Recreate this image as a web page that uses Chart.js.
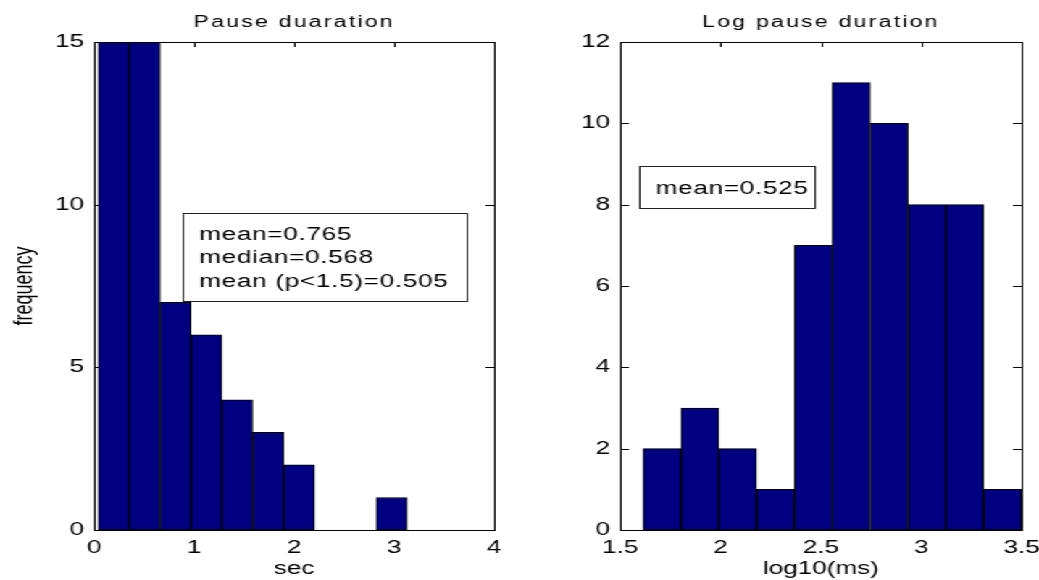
<!DOCTYPE html>
<html>
<head>
<meta charset="utf-8">
<script src="https://cdn.jsdelivr.net/npm/chart.js@4.4.0/dist/chart.umd.min.js"></script>
<style>
  html, body { margin: 0; padding: 0; background: #fff; overflow: hidden; }
  /* the figure is laid out narrow and widened, like the exported MATLAB figure */
  #figure { position: absolute; left: 0; top: 0; width: 717px; height: 580px;
            transform: scaleX(1.4491); transform-origin: 0 0; }
  #figure canvas { position: absolute; top: 0; }
</style>
</head>
<body>
<div id="figure">
  <canvas id="pause" width="359" height="580" style="left:0"></canvas>
  <canvas id="logpause" width="358" height="580" style="left:359px"></canvas>
</div>
<script>
// histogram bin centres and counts
const pauseBins = [0.195, 0.504, 0.813, 1.122, 1.431, 1.740, 2.049, 2.358, 2.667, 2.976];
const pauseCounts = [15, 15, 7, 6, 4, 3, 2, 0, 0, 1];
const pauseXTicks = [0, 1, 2, 3, 4];
const pauseYTicks = [0, 5, 10, 15];
const pauseNotes = ['mean=0.765', 'median=0.568', 'mean (p<1.5)=0.505'];

const logBins = [1.708, 1.897, 2.085, 2.274, 2.463, 2.651, 2.840, 3.029, 3.217, 3.406];
const logCounts = [2, 3, 2, 1, 7, 11, 10, 8, 8, 1];
const logXTicks = [1.5, 2, 2.5, 3, 3.5];
const logYTicks = [0, 2, 4, 6, 8, 10, 12];
const logNotes = ['mean=0.525'];

const FONT = '"Liberation Sans", Arial, sans-serif';
const BAR = '#000080';

// boxed axes with inward ticks, title and a text box
const frameAxes = {
  id: 'frameAxes',
  beforeDatasetsDraw(chart) {
    const { ctx, chartArea: a, scales: { x, y } } = chart;
    ctx.save();
    ctx.strokeStyle = '#000';
    ctx.lineWidth = 1;
    ctx.beginPath();
    x.ticks.forEach(t => {
      const px = Math.round(x.getPixelForValue(t.value)) + 0.5;
      ctx.moveTo(px, a.top); ctx.lineTo(px, a.top + 5);
      ctx.moveTo(px, a.bottom); ctx.lineTo(px, a.bottom - 5);
    });
    y.ticks.forEach(t => {
      const py = Math.round(y.getPixelForValue(t.value)) + 0.5;
      ctx.moveTo(a.left, py); ctx.lineTo(a.left + 6, py);
      ctx.moveTo(a.right, py); ctx.lineTo(a.right - 6, py);
    });
    ctx.stroke();
    ctx.restore();
  },
  afterDatasetsDraw(chart, args, opts) {
    const { ctx, chartArea: a, scales: { x, y } } = chart;
    ctx.save();
    ctx.strokeStyle = '#000';
    ctx.lineWidth = 1;
    ctx.strokeRect(Math.round(a.left) + 0.5, Math.round(a.top) + 0.5,
                   Math.round(a.right - a.left), Math.round(a.bottom - a.top));

    ctx.fillStyle = '#000';
    ctx.font = '16px ' + FONT;
    ctx.letterSpacing = '1.5px';
    ctx.textAlign = 'center';
    ctx.textBaseline = 'alphabetic';
    ctx.fillText(opts.title, (a.left + a.right) / 2, a.top - 15);

    const n = opts.note;
    const bx = Math.round(x.getPixelForValue(n.x)) + 0.5;
    const by = Math.round(y.getPixelForValue(n.y)) + 0.5;
    ctx.fillStyle = '#fff';
    ctx.fillRect(bx, by, n.w, n.h);
    ctx.strokeStyle = '#222';
    ctx.strokeRect(bx, by, n.w, n.h);
    ctx.fillStyle = '#000';
    ctx.font = '18px ' + FONT;
    ctx.letterSpacing = '0.5px';
    ctx.textAlign = 'left';
    n.lines.forEach((s, i) => ctx.fillText(s, bx + n.pad, by + n.first + i * 23.5));
    ctx.restore();
  }
};

function fixedTicks(values) {
  return scale => { scale.ticks = values.map(v => ({ value: v })); };
}

function makeHist(id, bins, counts, xt, yt, opts) {
  new Chart(document.getElementById(id), {
    type: 'bar',
    data: {
      datasets: [{
        data: bins.map((b, i) => ({ x: b, y: counts[i] })),
        backgroundColor: BAR,
        borderColor: '#000',
        borderWidth: 1,
        borderSkipped: false,
        barPercentage: 1,
        categoryPercentage: 1
      }]
    },
    plugins: [frameAxes],
    options: {
      responsive: false,
      animation: false,
      layout: { padding: { top: 42, right: opts.padRight, left: 0, bottom: 0 } },
      plugins: {
        legend: { display: false },
        tooltip: { enabled: false },
        frameAxes: { title: opts.title, note: opts.note }
      },
      scales: {
        x: {
          type: 'linear',
          offset: false,
          min: xt[0],
          max: xt[xt.length - 1],
          afterBuildTicks: fixedTicks(xt),
          // labels may hang past the plot edge, as the end labels do here
          afterFit: s => { s.height = 50; s.paddingLeft = 0; s.paddingRight = 0; },
          grid: { display: false, drawTicks: false },
          border: { display: false },
          ticks: { color: '#000', padding: 7, maxRotation: 0, callback: v => String(v),
                   font: { family: FONT, size: 18 } },
          title: { display: true, text: opts.xLabel, color: '#000',
                   padding: { top: 0, bottom: 0 }, font: { family: FONT, size: 18 } }
        },
        y: {
          min: yt[0],
          max: yt[yt.length - 1],
          afterBuildTicks: fixedTicks(yt),
          afterFit: s => { s.width = opts.axisLeft; s.paddingTop = 0; s.paddingBottom = 0; },
          grid: { display: false, drawTicks: false },
          border: { display: false },
          ticks: { color: '#000', padding: 7, font: { family: FONT, size: 18 } },
          title: { display: !!opts.yLabel, text: opts.yLabel || '', color: '#000',
                   padding: { top: 6, bottom: 0 }, font: { family: FONT, size: 18 } }
        }
      }
    }
  });
}

makeHist('pause', pauseBins, pauseCounts, pauseXTicks, pauseYTicks, {
  title: 'Pause duaration',
  xLabel: 'sec',
  yLabel: 'frequency',
  axisLeft: 65,
  padRight: 18,
  note: { x: 0.878, y: 9.74, w: 196, h: 88, pad: 11, first: 26, lines: pauseNotes }
});

makeHist('logpause', logBins, logCounts, logXTicks, logYTicks, {
  title: 'Log pause duration',
  xLabel: 'log10(ms)',
  axisLeft: 69,
  padRight: 12,
  note: { x: 1.596, y: 8.96, w: 121, h: 42, pad: 11, first: 27, lines: logNotes }
});
</script>
</body>
</html>
